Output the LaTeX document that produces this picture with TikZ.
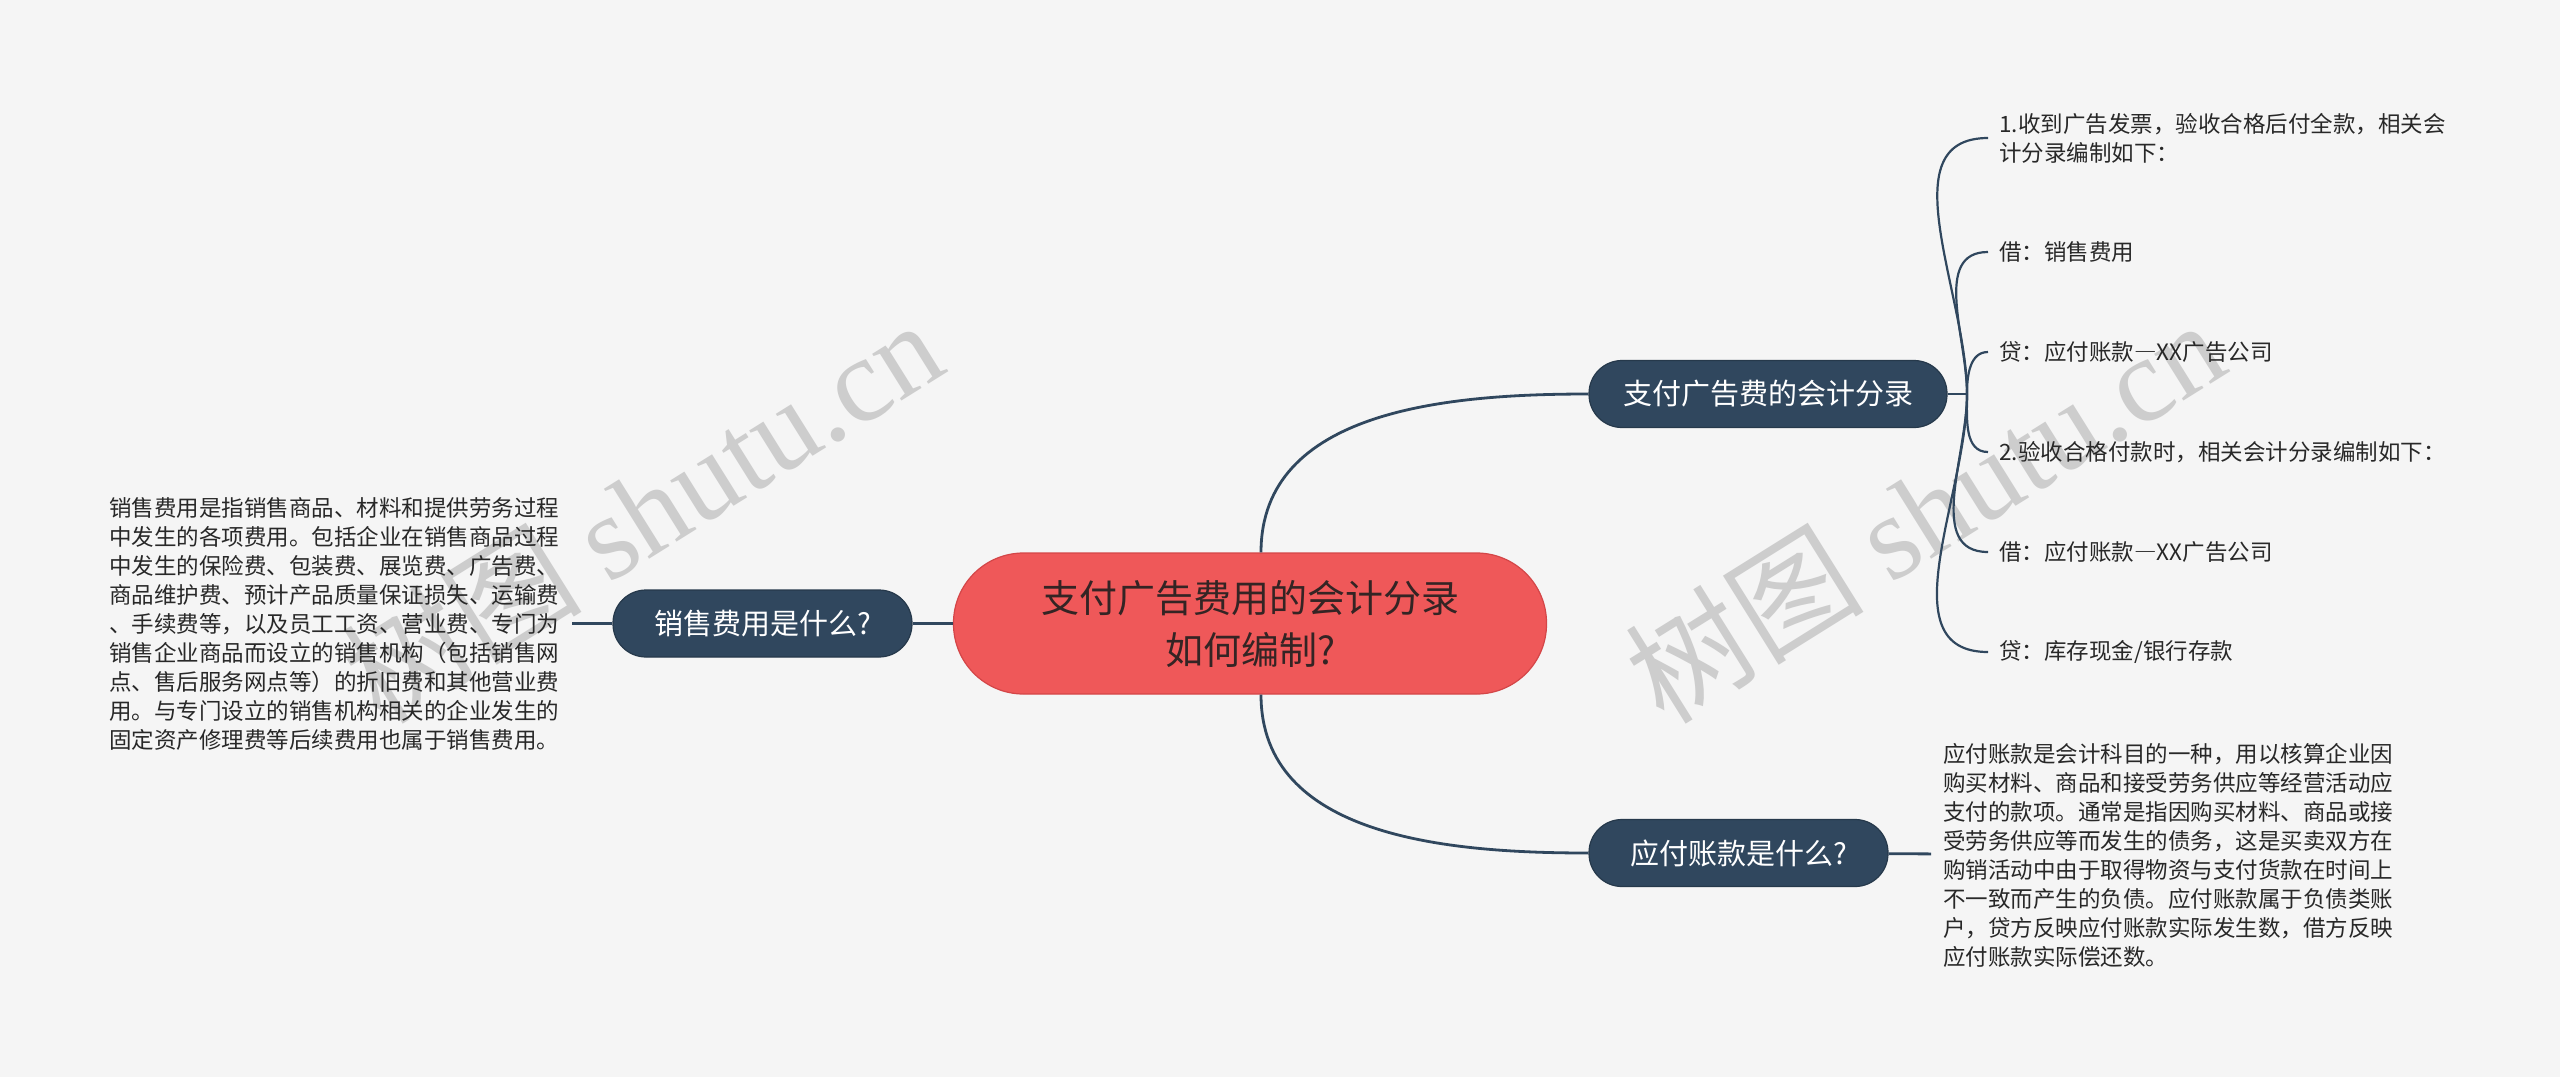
\documentclass[tikz,border=0pt]{standalone}
\usepackage{fontspec}
\setmainfont{Noto Sans CJK SC}
\newfontfamily\wmserif{Liberation Serif}
\usepackage{tikz}

\definecolor{bgcol}{RGB}{245,245,245}
\definecolor{navy}{RGB}{48,71,94}
\definecolor{rootred}{RGB}{239,88,89}
\definecolor{rootline}{RGB}{212,70,72}
\definecolor{rootink}{RGB}{52,36,36}
\definecolor{leafink}{RGB}{40,40,40}
\definecolor{wmgray}{RGB}{205,205,205}
\newcommand{\fwdash}{{\addfontfeatures{RawFeature=+fwid}—}}

\begin{document}
\begin{tikzpicture}[x=0.5pt, y=-0.5pt]
	\tikzstyle{rootnode} = [rectangle, rounded corners=35pt, fill=rootred, draw=rootline, line width=0.6pt, text=rootink, minimum width=296.5pt, minimum height=70.5pt, align=center, font=\fontsize{19}{26}\selectfont]
	\tikzstyle{topic} = [rectangle, rounded corners=16.5pt, fill=navy, draw=navy!80!black, line width=0.6pt, text=white, minimum height=33.5pt, font=\fontsize{14.5}{17}\selectfont]
	\tikzstyle{leaf} = [align=left, inner xsep=3.5pt, inner ysep=0pt, text=leafink, font=\fontsize{11.25}{14.5}\selectfont]
	\tikzstyle{wire} = [draw=navy, line width=1.4pt]
	\tikzstyle{twig} = [draw=navy, line width=1.1pt]
	\tikzstyle{wm} = [text=wmgray, rotate=32, font=\fontsize{60}{60}\selectfont]
	\useasboundingbox (0,0) rectangle (2560,1077);
	\fill[bgcol] (0,0) rectangle (2560,1077);
	% watermark
	\node[wm] (wmleft) at (642,510) {树图 {\wmserif shutu.cn}};
	\node[wm] (wmright) at (1924,510) {树图 {\wmserif shutu.cn}};
	% main topics
	\node[rootnode] (root) at (1250,623.5) {支付广告费用的会计分录\\如何编制?};
	\node[topic, minimum width=149.5pt] (sales) at (762.5,623.5) {销售费用是什么?};
	\node[topic, minimum width=179pt] (entry) at (1768,394) {支付广告费的会计分录};
	\node[topic, minimum width=149.5pt] (payable) at (1738.5,853) {应付账款是什么?};
	% details
	\node[leaf, anchor=west, inner xsep=6pt] (salestext) at (97,623.5) {%
销售费用是指销售商品、材料和提供劳务过程\\%
中发生的各项费用。包括企业在销售商品过程\\%
中发生的保险费、包装费、展览费、广告费、\\%
商品维护费、预计产品质量保证损失、运输费\\%
、手续费等，以及员工工资、营业费、专门为\\%
销售企业商品而设立的销售机构（包括销售网\\%
点、售后服务网点等）的折旧费和其他营业费\\%
用。与专门设立的销售机构相关的企业发生的\\%
固定资产修理费等后续费用也属于销售费用。};
	\node[leaf, anchor=west, inner xsep=6pt] (payabletext) at (1931,855) {%
应付账款是会计科目的一种，用以核算企业因\\%
购买材料、商品和接受劳务供应等经营活动应\\%
支付的款项。通常是指因购买材料、商品或接\\%
受劳务供应等而发生的债务，这是买卖双方在\\%
购销活动中由于取得物资与支付货款在时间上\\%
不一致而产生的负债。应付账款属于负债类账\\%
户，贷方反映应付账款实际发生数，借方反映\\%
应付账款实际偿还数。};
	\coordinate (jn) at (1967,394);
	\node[leaf, anchor=west, inner xsep=5.5pt] (e1) at (1988,138) {1.收到广告发票，验收合格后付全款，相关会\\计分录编制如下：};
	\node[leaf, anchor=west, inner xsep=5.5pt] (e2) at (1988,252) {借：销售费用};
	\node[leaf, anchor=west, inner xsep=5.5pt] (e3) at (1988,352) {贷：应付账款\fwdash XX广告公司};
	\node[leaf, anchor=west, inner xsep=5.5pt] (e4) at (1988,452) {2.验收合格付款时，相关会计分录编制如下：};
	\node[leaf, anchor=west, inner xsep=5.5pt] (e5) at (1988,552) {借：应付账款\fwdash XX广告公司};
	\node[leaf, anchor=west, inner xsep=5.5pt] (e6) at (1988,652) {贷：库存现金/银行存款};
	% connectors
	\draw[wire] (root) -- (sales);
	\draw[wire] ([xshift=5.5pt]root.north) to[out=90, in=180] (entry.west);
	\draw[wire] ([xshift=5.5pt]root.south) to[out=-90, in=180] (payable.west);
	\draw[wire] (sales) -- (salestext);
	\draw[wire] (payable) -- (payabletext);
	\draw[wire] (entry.east) -- (jn);
	\draw[twig] (jn) to[out=90, in=180] (e1.west);
	\draw[twig] (jn) to[out=90, in=180] (e2.west);
	\draw[twig] (jn) to[out=90, in=180] (e3.west);
	\draw[twig] (jn) to[out=-90, in=180] (e4.west);
	\draw[twig] (jn) to[out=-90, in=180] (e5.west);
	\draw[twig] (jn) to[out=-90, in=180] (e6.west);
\end{tikzpicture}
\end{document}
